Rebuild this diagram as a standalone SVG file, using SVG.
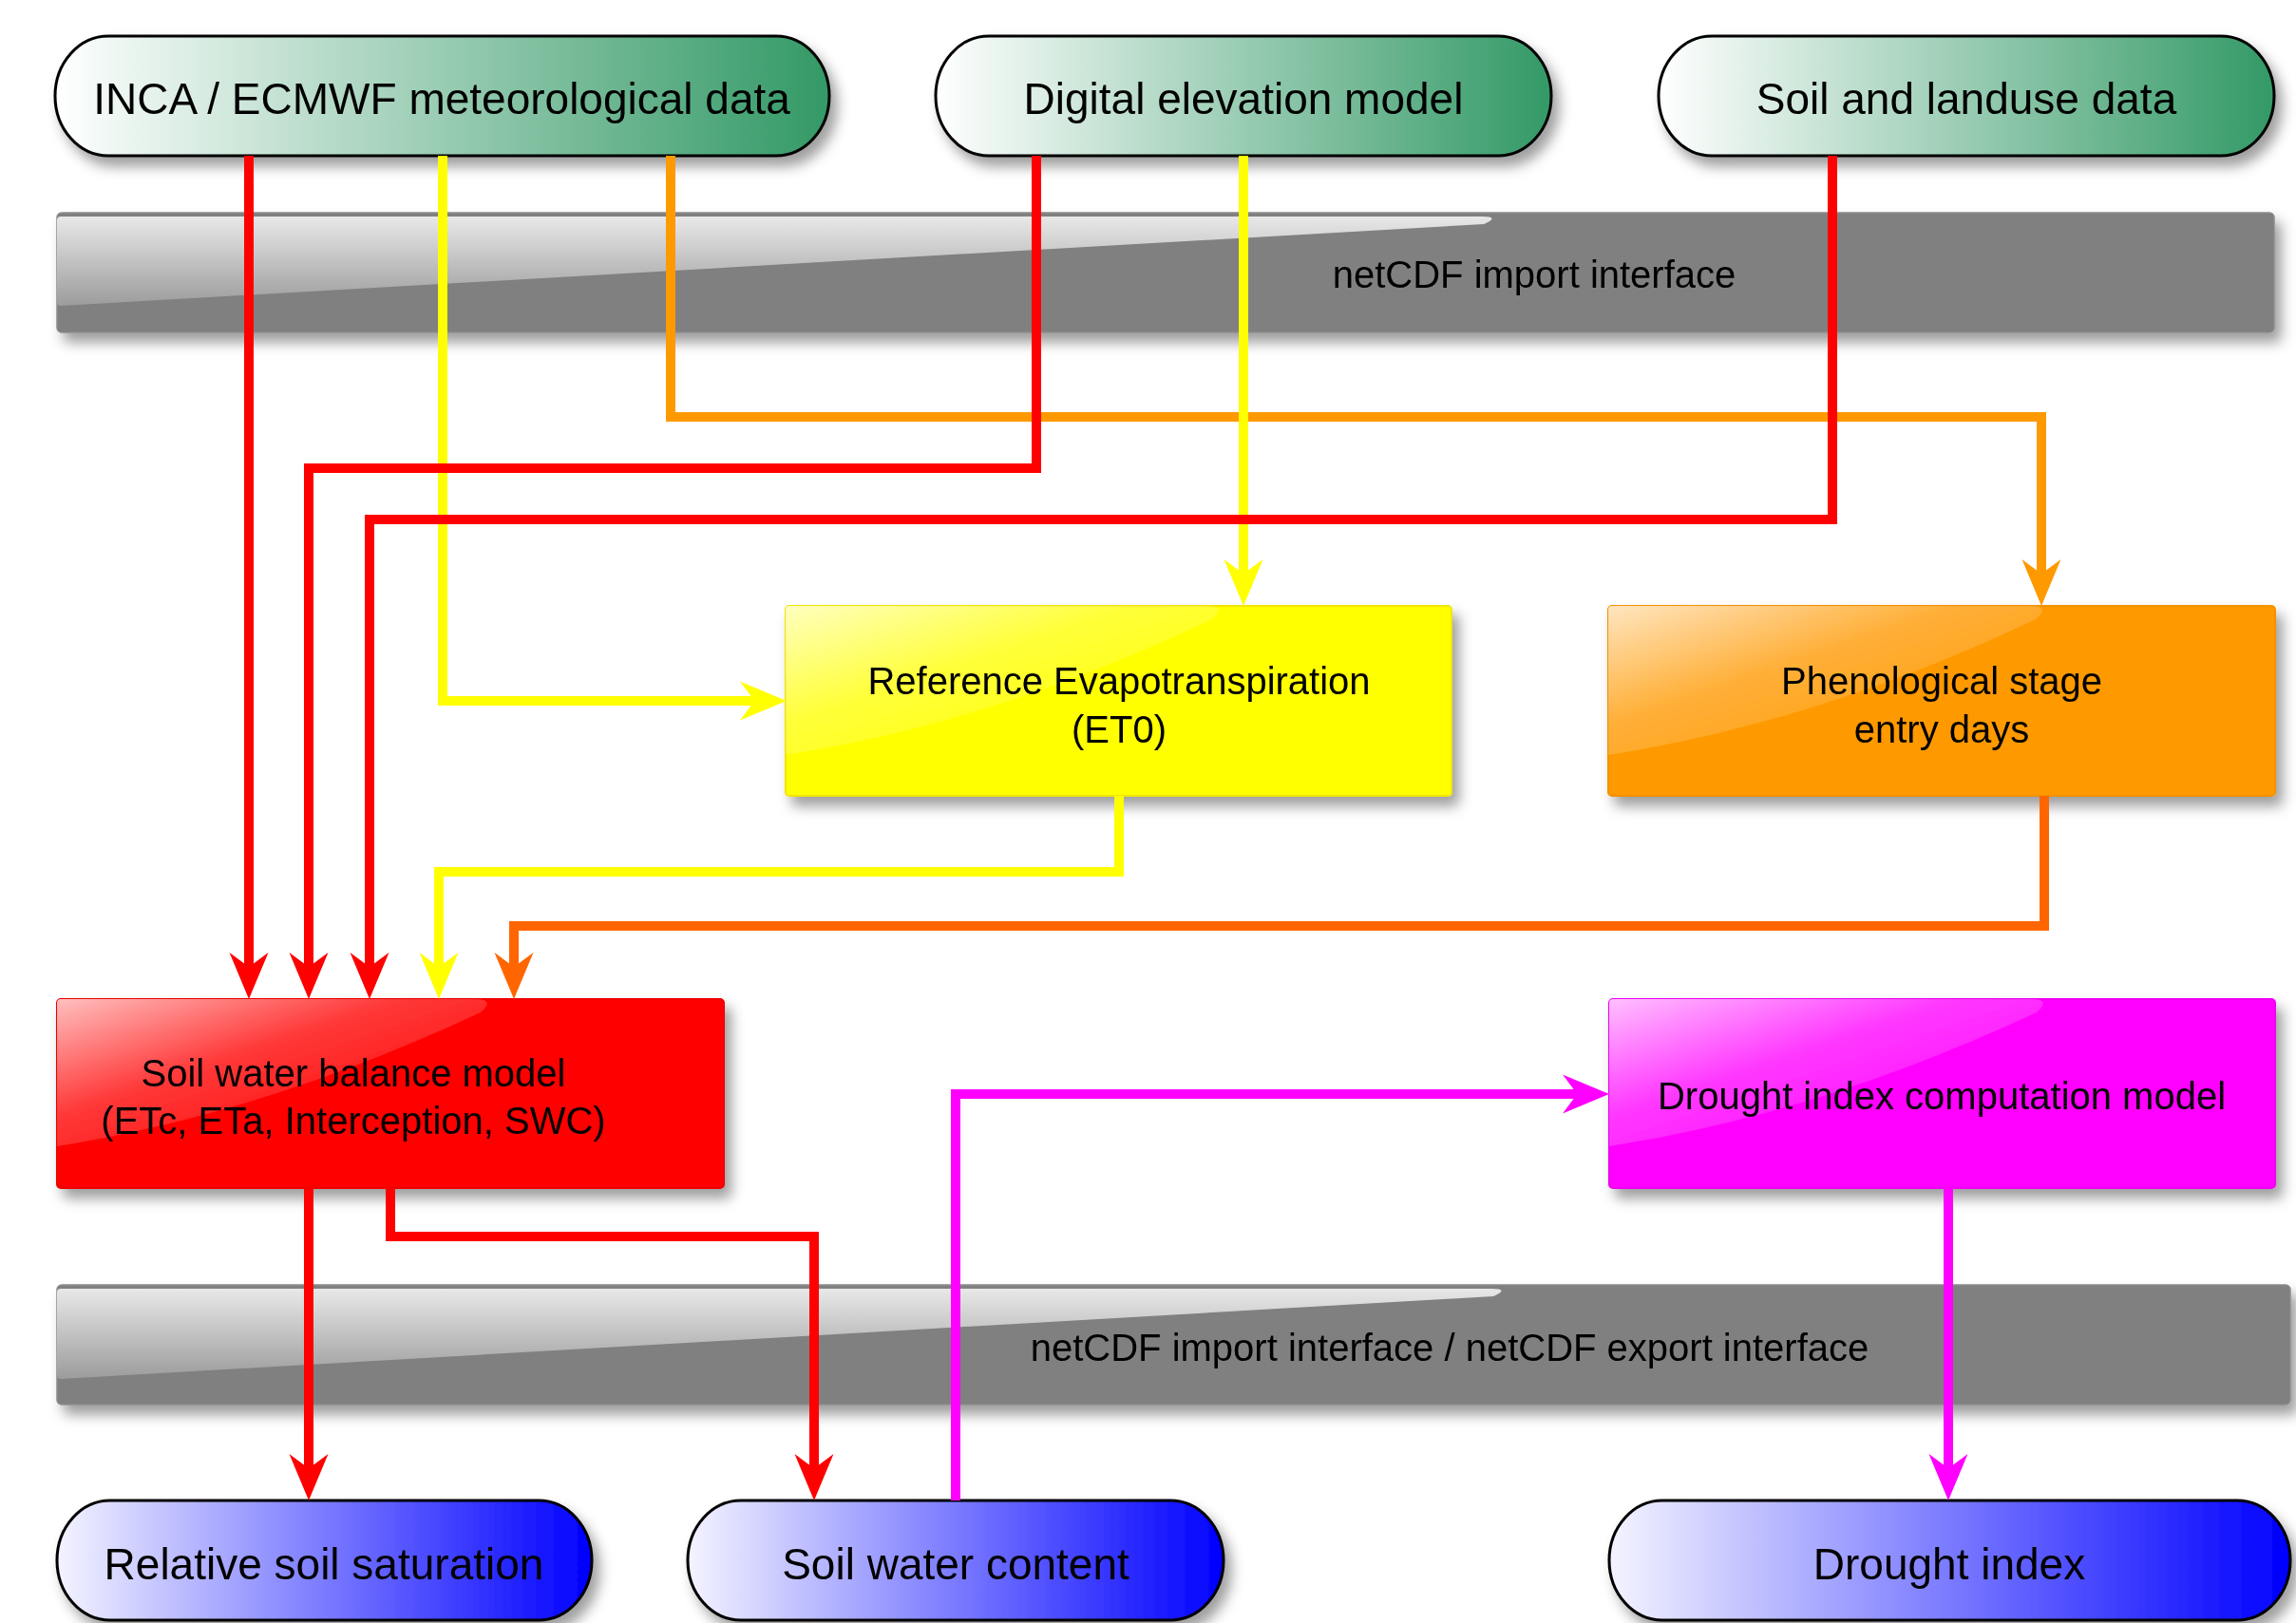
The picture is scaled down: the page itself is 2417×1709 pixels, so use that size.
<svg xmlns="http://www.w3.org/2000/svg" width="2417" height="1709" viewBox="0 0 2417 1709">
<defs>
  <style>
    text { font-family: "Liberation Sans", Arial, sans-serif; fill: #000; }
    .pilltxt { font-size: 46px; text-anchor: middle; }
    .boxtxt { font-size: 40px; text-anchor: middle; }
    .bartxt { font-size: 40px; text-anchor: middle; }
    .pill { stroke: #000; stroke-width: 3; }
    .conn { fill: none; stroke-width: 10; stroke-linejoin: miter; stroke-linecap: butt; }
    .bar { fill: #808080; stroke: #8a8a8a; stroke-width: 1.5; }
  </style>
  <filter id="shadow" x="-5%" y="-20%" width="115%" height="150%">
    <feDropShadow dx="7" dy="10" stdDeviation="7" flood-color="#000" flood-opacity="0.38"/>
  </filter>
  <linearGradient id="gGreen" x1="0" y1="0" x2="1" y2="0">
    <stop offset="0" stop-color="#ffffff"/>
    <stop offset="1" stop-color="#339966"/>
  </linearGradient>
  <linearGradient id="gBlue" x1="0" y1="0" x2="1" y2="0">
    <stop offset="0" stop-color="#f4f4ff"/>
    <stop offset="1" stop-color="#0000ff"/>
  </linearGradient>
  <linearGradient id="gGloss" x1="0" y1="0" x2="0.8" y2="0.8">
    <stop offset="0" stop-color="#fff" stop-opacity="0.75"/>
    <stop offset="0.5" stop-color="#fff" stop-opacity="0.22"/>
    <stop offset="1" stop-color="#fff" stop-opacity="0.06"/>
  </linearGradient>
  <linearGradient id="gBarGloss" x1="0" y1="0" x2="0" y2="1">
    <stop offset="0" stop-color="#e8e8e8"/>
    <stop offset="1" stop-color="#9c9c9c"/>
  </linearGradient>
  <marker id="aRed" markerUnits="userSpaceOnUse" viewBox="-20 -22 52 44" markerWidth="52" markerHeight="44" refX="0" refY="0" orient="auto" overflow="visible">
    <path d="M30,0 L-19,-20.5 L-6,-3 L-6,3 L-19,20.5 Z" fill="#ff0000"/>
  </marker>
  <marker id="aYellow" markerUnits="userSpaceOnUse" viewBox="-20 -22 52 44" markerWidth="52" markerHeight="44" refX="0" refY="0" orient="auto" overflow="visible">
    <path d="M30,0 L-19,-20.5 L-6,-3 L-6,3 L-19,20.5 Z" fill="#ffff00"/>
  </marker>
  <marker id="aOrange" markerUnits="userSpaceOnUse" viewBox="-20 -22 52 44" markerWidth="52" markerHeight="44" refX="0" refY="0" orient="auto" overflow="visible">
    <path d="M30,0 L-19,-20.5 L-6,-3 L-6,3 L-19,20.5 Z" fill="#ff9900"/>
  </marker>
  <marker id="aOrangeRed" markerUnits="userSpaceOnUse" viewBox="-20 -22 52 44" markerWidth="52" markerHeight="44" refX="0" refY="0" orient="auto" overflow="visible">
    <path d="M30,0 L-19,-20.5 L-6,-3 L-6,3 L-19,20.5 Z" fill="#ff6600"/>
  </marker>
  <marker id="aMagenta" markerUnits="userSpaceOnUse" viewBox="-20 -22 52 44" markerWidth="52" markerHeight="44" refX="0" refY="0" orient="auto" overflow="visible">
    <path d="M30,0 L-19,-20.5 L-6,-3 L-6,3 L-19,20.5 Z" fill="#ff00ff"/>
  </marker>
</defs>

<rect x="0" y="0" width="2417" height="1709" fill="#ffffff"/>

<!-- interface bars -->
<g id="bar-import" filter="url(#shadow)">
  <rect class="bar" x="60" y="224" width="2334" height="126" rx="5"/>
  <path d="M64,228 L1560,228 Q1580,228 1562,236 L64,322 Q60,322 60,318 L60,232 Q60,228 64,228 Z" fill="url(#gBarGloss)"/>
  <text class="bartxt" x="1615" y="303">netCDF import interface</text>
</g>
<g id="bar-importexport" filter="url(#shadow)">
  <rect class="bar" x="60" y="1353" width="2351" height="126" rx="5"/>
  <path d="M64,1357 L1570,1357 Q1590,1357 1572,1365 L64,1452 Q60,1452 60,1448 L60,1361 Q60,1357 64,1357 Z" fill="url(#gBarGloss)"/>
  <text class="bartxt" x="1526" y="1433">netCDF import interface / netCDF export interface</text>
</g>

<!-- input pills -->
<g id="inca" filter="url(#shadow)">
  <rect class="pill" x="58" y="38" width="815" height="126" rx="56" ry="63" fill="url(#gGreen)"/>
  <text class="pilltxt" x="465" y="120">INCA / ECMWF meteorological data</text>
</g>
<g id="dem" filter="url(#shadow)">
  <rect class="pill" x="985" y="38" width="648" height="126" rx="56" ry="63" fill="url(#gGreen)"/>
  <text class="pilltxt" x="1309" y="120">Digital elevation model</text>
</g>
<g id="soil" filter="url(#shadow)">
  <rect class="pill" x="1746" y="38" width="648" height="126" rx="56" ry="63" fill="url(#gGreen)"/>
  <text class="pilltxt" x="2070" y="120">Soil and landuse data</text>
</g>

<!-- process boxes -->
<g id="et0" filter="url(#shadow)">
  <rect x="827" y="638" width="701" height="200" rx="4" fill="#ffff00" stroke="#f2e600" stroke-width="2"/>
  <path d="M831,638 L1270,638 Q1292,638 1276,652 Q1050,760 827,795 L827,642 Q827,638 831,638 Z" fill="url(#gGloss)"/>
  <text class="boxtxt" x="1178" y="731">Reference Evapotranspiration</text>
  <text class="boxtxt" x="1178" y="782">(ET0)</text>
</g>
<g id="pheno" filter="url(#shadow)">
  <rect x="1693" y="638" width="702" height="200" rx="4" fill="#ff9900" stroke="#f39200" stroke-width="2"/>
  <path d="M1697,638 L2137,638 Q2159,638 2143,652 Q1917,760 1693,795 L1693,642 Q1693,638 1697,638 Z" fill="url(#gGloss)"/>
  <text class="boxtxt" x="2044" y="731">Phenological stage</text>
  <text class="boxtxt" x="2044" y="782">entry days</text>
</g>
<g id="swb" filter="url(#shadow)">
  <rect x="60" y="1052" width="702" height="199" rx="4" fill="#ff0000" stroke="#f00000" stroke-width="2"/>
  <path d="M64,1052 L500,1052 Q522,1052 506,1066 Q280,1172 60,1207 L60,1056 Q60,1052 64,1052 Z" fill="url(#gGloss)"/>
  <text class="boxtxt" x="372" y="1144">Soil water balance model</text>
  <text class="boxtxt" x="372" y="1194">(ETc, ETa, Interception, SWC)</text>
</g>
<g id="dicm" filter="url(#shadow)">
  <rect x="1694" y="1052" width="701" height="199" rx="4" fill="#ff00ff" stroke="#f000f0" stroke-width="2"/>
  <path d="M1698,1052 L2138,1052 Q2160,1052 2144,1066 Q1918,1172 1694,1207 L1694,1056 Q1694,1052 1698,1052 Z" fill="url(#gGloss)"/>
  <text class="boxtxt" x="2044" y="1168">Drought index computation model</text>
</g>

<!-- output pills -->
<g id="rss" filter="url(#shadow)">
  <rect class="pill" x="60" y="1580" width="563" height="126" rx="56" ry="63" fill="url(#gBlue)"/>
  <text class="pilltxt" x="341" y="1663">Relative soil saturation</text>
</g>
<g id="swc" filter="url(#shadow)">
  <rect class="pill" x="724" y="1580" width="564" height="126" rx="56" ry="63" fill="url(#gBlue)"/>
  <text class="pilltxt" x="1006" y="1663">Soil water content</text>
</g>
<g id="di" filter="url(#shadow)">
  <rect class="pill" x="1694" y="1580" width="717" height="126" rx="56" ry="63" fill="url(#gBlue)"/>
  <text class="pilltxt" x="2052" y="1663">Drought index</text>
</g>

<!-- connectors -->
<g id="connectors">
  <path class="conn" stroke="#ff0000" d="M262,164 V1022" marker-end="url(#aRed)"/>
  <path class="conn" stroke="#ffff00" d="M466,164 V738 H798" marker-end="url(#aYellow)"/>
  <path class="conn" stroke="#ff9900" d="M706,164 V439 H2149 V608" marker-end="url(#aOrange)"/>
  <path class="conn" stroke="#ff0000" d="M1091,164 V493 H325 V1022" marker-end="url(#aRed)"/>
  <path class="conn" stroke="#ffff00" d="M1309,164 V608" marker-end="url(#aYellow)"/>
  <path class="conn" stroke="#ff0000" d="M1929,164 V547 H389 V1022" marker-end="url(#aRed)"/>
  <path class="conn" stroke="#ffff00" d="M1178,838 V918 H462 V1022" marker-end="url(#aYellow)"/>
  <path class="conn" stroke="#ff6600" d="M2152,838 V975 H541 V1022" marker-end="url(#aOrangeRed)"/>
  <path class="conn" stroke="#ff0000" d="M325,1251 V1550" marker-end="url(#aRed)"/>
  <path class="conn" stroke="#ff0000" d="M411,1251 V1302 H857 V1550" marker-end="url(#aRed)"/>
  <path class="conn" stroke="#ff00ff" d="M1006,1580 V1152 H1664" marker-end="url(#aMagenta)"/>
  <path class="conn" stroke="#ff00ff" d="M2051,1251 V1550" marker-end="url(#aMagenta)"/>
</g>
</svg>
